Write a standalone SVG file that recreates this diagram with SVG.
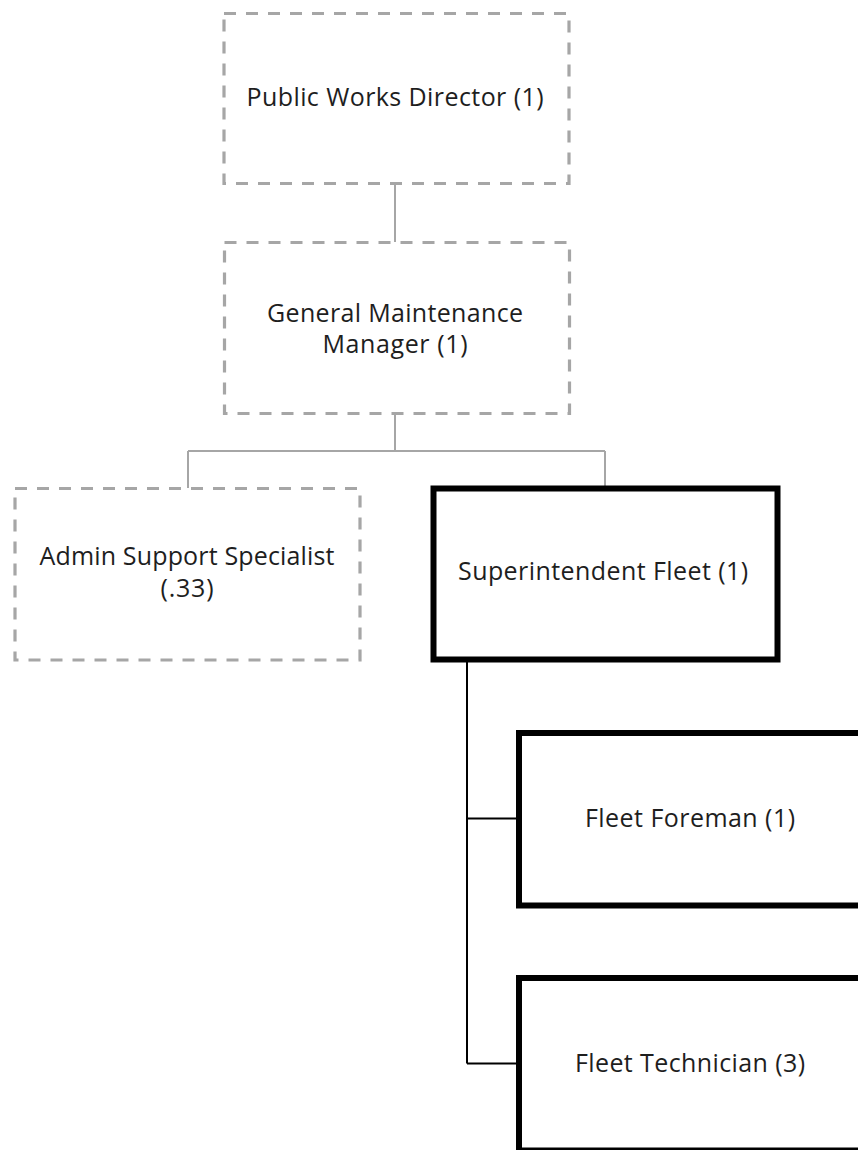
<svg xmlns="http://www.w3.org/2000/svg" width="858" height="1150" viewBox="0 0 858 1150">
  <style>
    .bg { fill: #ffffff; }
    .vacant { fill: #ffffff; stroke: #a6a6a6; stroke-width: 3.2; stroke-dasharray: 12 10; }
    .filled { fill: #ffffff; stroke: #000000; stroke-width: 6; }
    .link-gray { fill: none; stroke: #a6a6a6; stroke-width: 2; }
    .link-black { fill: none; stroke: #000000; stroke-width: 2; }
    .label { font-family: "Open Sans", "Noto Sans", "Liberation Sans", sans-serif; font-size: 25px; fill: #1e1e1e; text-anchor: middle; }
  </style>

  <rect class="bg" x="0" y="0" width="858" height="1150"/>

  <!-- reporting lines -->
  <g id="connectors">
    <path class="link-gray" d="M395 184 V242"/>
    <path class="link-gray" d="M395 414 V451 M188 451 H605 M188 451 V488 M605 451 V486"/>
    <path class="link-black" d="M467 662 V1063.5 M467 818.5 H517 M467 1063.5 H517"/>
  </g>

  <g id="public-works-director">
    <rect class="vacant" x="224" y="13.5" width="345" height="170"/>
    <text class="label" x="395" y="106" textLength="297">Public Works Director (1)</text>
  </g>

  <g id="general-maintenance-manager">
    <rect class="vacant" x="224.5" y="242.5" width="345" height="171"/>
    <text class="label" x="395" y="321.5" textLength="256">General Maintenance</text>
    <text class="label" x="395" y="353" textLength="145">Manager (1)</text>
  </g>

  <g id="admin-support-specialist">
    <rect class="vacant" x="15" y="488.5" width="345" height="171.5"/>
    <text class="label" x="187" y="565" textLength="295">Admin Support Specialist</text>
    <text class="label" x="187" y="597" textLength="53">(.33)</text>
  </g>

  <g id="superintendent-fleet">
    <rect class="filled" x="433.5" y="488.5" width="344" height="171"/>
    <text class="label" x="603" y="580" textLength="290">Superintendent Fleet (1)</text>
  </g>

  <g id="fleet-foreman">
    <rect class="filled" x="519" y="733" width="344" height="172.5"/>
    <text class="label" x="690" y="827" textLength="210">Fleet Foreman (1)</text>
  </g>

  <g id="fleet-technician">
    <rect class="filled" x="519" y="978" width="344" height="172.5"/>
    <text class="label" x="690" y="1071.5" textLength="230">Fleet Technician (3)</text>
  </g>
</svg>
